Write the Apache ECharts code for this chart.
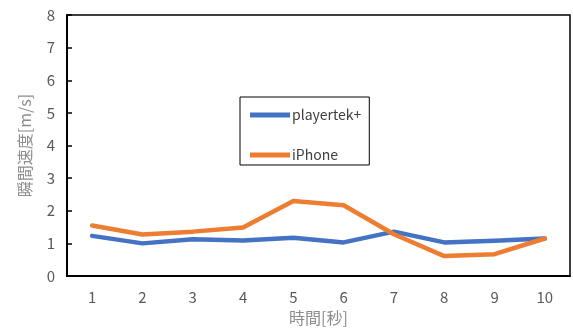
<!DOCTYPE html>
<html>
<head>
<meta charset="utf-8" />
<title>瞬間速度</title>
<script src="https://cdn.jsdelivr.net/npm/echarts@6/dist/echarts.min.js"></script>
<style>
  html, body { margin: 0; padding: 0; background: #fff; }
  #main { width: 573px; height: 331px; }
</style>
</head>
<body>
<div id="main"></div>
<script type="text/javascript">
// 時間[秒]
var seconds = ['1', '2', '3', '4', '5', '6', '7', '8', '9', '10'];
// playertek+ 速度
var playertek = [1.23, 1.00, 1.13, 1.09, 1.17, 1.03, 1.36, 1.03, 1.08, 1.15];
// iPhone 速度
var iphone = [1.55, 1.27, 1.36, 1.49, 2.30, 2.17, 1.28, 0.61, 0.67, 1.15];

var font = '"Noto Sans CJK JP", "Noto Sans", sans-serif';
var chart = echarts.init(document.getElementById('main'));

var option = {
  animation: false,
  textStyle: { fontFamily: font },
  grid: {
    left: 67, right: 3, top: 15, bottom: 55,
    show: true, borderColor: '#000', borderWidth: 1.5
  },
  legend: {
    orient: 'vertical',
    left: 240, top: 97,
    padding: [11, 8, 3, 10],
    itemGap: 26,
    itemWidth: 40,
    itemHeight: 5,
    icon: 'rect',
    borderColor: '#000',
    borderWidth: 1,
    textStyle: { fontFamily: font, fontSize: 14, color: '#404040', padding: [0, 0, 0, -3] },
    data: ['playertek+', 'iPhone']
  },
  xAxis: {
    type: 'category',
    data: seconds,
    name: '時間[秒]',
    nameLocation: 'middle',
    nameGap: 32,
    nameTextStyle: { fontSize: 16, color: '#8c8c8c' },
    axisLine: { lineStyle: { color: '#000', width: 2 } },
    axisTick: { inside: true, alignWithLabel: true, length: 5, lineStyle: { color: '#000', width: 1.5 } },
    axisLabel: { fontSize: 15, color: '#595959', margin: 14 },
    splitLine: { show: false }
  },
  yAxis: {
    type: 'value',
    min: 0, max: 8, interval: 1,
    name: '瞬間速度[m/s]',
    nameLocation: 'middle',
    nameGap: 34,
    nameTextStyle: { fontSize: 16, color: '#8c8c8c' },
    axisLine: { show: true, lineStyle: { color: '#000', width: 2 } },
    axisTick: { show: true, inside: true, length: 5, lineStyle: { color: '#000', width: 1.5 } },
    axisLabel: { fontSize: 15, color: '#595959', margin: 12 },
    splitLine: { show: false }
  },
  series: [{
    name: 'playertek+',
    type: 'line',
    data: playertek,
    symbol: 'none',
    itemStyle: { color: '#4472C4' },
    lineStyle: { color: '#4472C4', width: 4.5, cap: 'round', join: 'round' }
  }, {
    name: 'iPhone',
    type: 'line',
    data: iphone,
    symbol: 'none',
    itemStyle: { color: '#ED7D31' },
    lineStyle: { color: '#ED7D31', width: 4.5, cap: 'round', join: 'round' }
  }]
};
chart.setOption(option);
</script>
</body>
</html>
